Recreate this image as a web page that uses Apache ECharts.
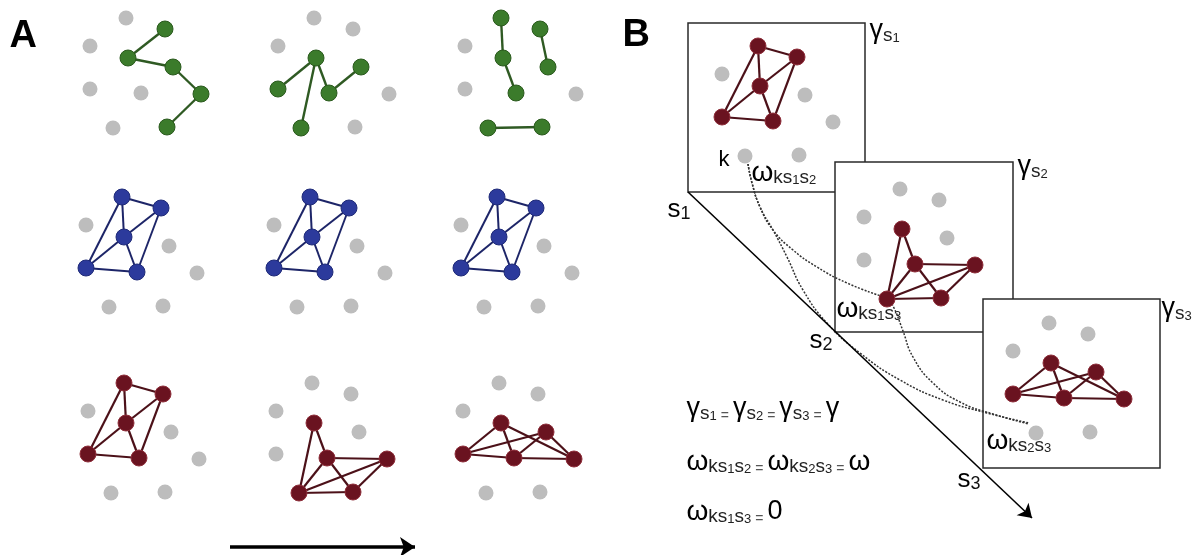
<!DOCTYPE html>
<html><head><meta charset="utf-8">
<script src="https://cdn.jsdelivr.net/npm/echarts@6/dist/echarts.min.js"></script>
<style>html,body{margin:0;padding:0;background:#fff}#c{width:1199px;height:555px}</style>
</head><body><div id="c"></div>
<script>
// ---- data ----
// base 10-node layout (shared by every network)
const nodeX = [126,165,90,128,173,90,141,201,113,167];
const nodeY = [18,29,46,58,67,89,93,94,128,127];

// edge lists (node index pairs); coloured nodes = nodes that carry an edge
const edgesG1 = [[1,3],[3,4],[4,7],[7,9]];
const edgesG2 = [[3,5],[3,8],[3,6],[6,4]];
const edgesG3 = [[0,3],[3,6],[1,4],[8,9]];
const edgesB  = [[0,1],[0,3],[0,5],[1,3],[1,6],[3,5],[3,6],[5,6]];
const edgesR2 = [[3,8],[3,6],[6,7],[6,8],[6,9],[8,9],[8,7],[9,7]];
const edgesR3 = [[5,3],[5,4],[5,6],[3,6],[3,7],[4,6],[4,7],[6,7]];

// which network goes in which cell
const cellEdges   = [edgesG1,edgesG2,edgesG3, edgesB,edgesB,edgesB, edgesB,edgesR2,edgesR3, edgesB,edgesR2,edgesR3];
const cellPalette = ['green','green','green','blue','blue','blue','red','red','red','red','red','red'];

// slice boxes of panel B: [x0,y0,x1,y1]
const boxes = [[688,23,865,192],[835,162,1013,332],[983,299,1160,468]];

// dotted inter-slice couplings
const curveS1S2 = [[748,164],[752,183],[760,207],[773,230],[793,250],[817,267],[847,283],[881,296]];
const curveS1S3 = [[748,164],[752,183],[760,207],[773,230],[787,257],[803,290],[827,323],[860,353],[900,380],[943,400],[987,413],[1029,423]];
const curveS2S3 = [[890,301],[895,310],[903,331],[913,357],[933,383],[960,402],[993,414],[1029,424]];

// arrows
const timeArrow  = [[230,547],[415,547]];
const sliceArrow = [[688,192],[1032,518]];

// text labels
const labelText = [
  '{AB|A}','{AB|B}','{k|k}',
  '{S|s}{D|1}','{S|s}{D|2}','{S|s}{D|3}',
  '{g|γ}{s|s}{d|1}','{g|γ}{s|s}{d|2}','{g|γ}{s|s}{d|3}',
  '{w|ω}{s|ks}{d|1}{s|s}{d|2}','{w|ω}{s|ks}{d|1}{s|s}{d|3}','{w|ω}{s|ks}{d|2}{s|s}{d|3}',
  '{g|γ}{s|s}{d|1}{e|=}{g|γ}{s|s}{d|2}{e|=}{g|γ}{s|s}{d|3}{e|=}{g|γ}',
  '{w|ω}{s|ks}{d|1}{s|s}{d|2}{e|=}{w|ω}{s|ks}{d|2}{s|s}{d|3}{e|=}{w|ω}',
  '{w|ω}{s|ks}{d|1}{s|s}{d|3}{e|=}{n|0}'
];

// ---- layout (cell origins, label anchors) ----
const cellOffset = [[0,0],[188,0],[375,0],[-4,179],[184,179],[371,179],[-2,365],[186,365],[373,365],[632,28],[774,171],[923,305]];
const labelPos = [[9,37],[622,36],[718,160],[667,210],[809,341],[957,480],
  [869,31],[1017,167],[1161,309],[751,173],[836,309],[986,441],[686,409],[686,462],[686,512]];

const F = 'Liberation Sans';
const palettes = {
  green:{fill:'#3b7b2b', border:'#2a5a1d', edge:'#2f5a23', ew:2.4},
  blue:{fill:'#2c3a9c', border:'#1f2a78', edge:'#1d2568', ew:2},
  red:{fill:'#6a1320', border:'#8e2e3a', edge:'#4c1119', ew:2.2}
};
const GRAY = '#bdbdbd';

const nodeData = [], edgeData = [];
cellEdges.forEach((edges, ci) => {
  const pal = palettes[cellPalette[ci]];
  const [ox, oy] = cellOffset[ci];
  const active = new Set(edges.flat());
  edges.forEach(([a,b]) => edgeData.push({
    coords:[[nodeX[a]+ox, nodeY[a]+oy],[nodeX[b]+ox, nodeY[b]+oy]],
    lineStyle:{color:pal.edge, width:pal.ew, opacity:1}
  }));
  nodeX.forEach((x,i) => {
    const on = active.has(i);
    nodeData.push({
      value:[x+ox, nodeY[i]+oy],
      symbolSize: on ? 16 : 15,
      itemStyle: on ? {color:pal.fill, borderColor:pal.border, borderWidth:1, opacity:1} : {color:GRAY, opacity:1}
    });
  });
});

const rich = {
  AB:{fontSize:38, fontWeight:'bold', color:'#000', fontFamily:F, lineHeight:40},
  k:{fontSize:22, color:'#000', fontFamily:F, lineHeight:22},
  S:{fontSize:26, color:'#000', fontFamily:F, lineHeight:26},
  D:{fontSize:18, color:'#111', fontFamily:F, verticalAlign:'bottom', lineHeight:10},
  g:{fontSize:27, color:'#000', fontFamily:F, lineHeight:28},
  w:{fontSize:28, color:'#000', fontFamily:F, lineHeight:28},
  s:{fontSize:19, color:'#222', fontFamily:F, verticalAlign:'bottom', lineHeight:14},
  d:{fontSize:13, color:'#222', fontFamily:F, verticalAlign:'bottom', lineHeight:10},
  e:{fontSize:14, color:'#555', fontFamily:F, verticalAlign:'bottom', lineHeight:22, padding:[0,4,0,4]},
  n:{fontSize:27, color:'#000', fontFamily:F, lineHeight:28}
};
const labelData = labelText.map((t,i) => ({
  value: labelPos[i],
  label:{show:true, formatter:t, position:'right', distance:0, opacity:1, rich:rich}
}));

const curveSeries = [curveS1S2, curveS1S3, curveS2S3].map(c => ({
  type:'line', data:c, smooth:0.5, showSymbol:false, symbol:'none', z:2, silent:true,
  lineStyle:{type:[2,1.5], width:1.5, color:'#333'}
}));

const chart = echarts.init(document.getElementById('c'));
chart.setOption({
  animation:false,
  backgroundColor:'#fff',
  grid:{left:0, right:0, top:0, bottom:0},
  xAxis:{type:'value', min:0, max:1199, show:false},
  yAxis:{type:'value', min:0, max:555, inverse:true, show:false},
  series:[
    {type:'custom', z:1, clip:false, silent:true, data:boxes,
     encode:{x:[0,2], y:[1,3]},
     renderItem:(params, api) => {
       const p0 = api.coord([api.value(0), api.value(1)]);
       const p1 = api.coord([api.value(2), api.value(3)]);
       return {type:'rect', shape:{x:p0[0], y:p0[1], width:p1[0]-p0[0], height:p1[1]-p0[1]},
               style:{fill:'#fff', stroke:'#2a2a2a', lineWidth:1.5}};
     }},
    ...curveSeries,
    {type:'lines', coordinateSystem:'cartesian2d', z:3, silent:true, data:edgeData,
     lineStyle:{opacity:1}},
    {type:'lines', coordinateSystem:'cartesian2d', z:3, silent:true,
     symbol:['none','arrow'], symbolSize:15, data:[{coords:timeArrow}],
     lineStyle:{color:'#000', width:3.5, opacity:1}},
    {type:'lines', coordinateSystem:'cartesian2d', z:3, silent:true,
     symbol:['none','arrow'], symbolSize:13, data:[{coords:sliceArrow}],
     lineStyle:{color:'#000', width:1.6, opacity:1}},
    {type:'scatter', z:4, silent:true, itemStyle:{opacity:1}, data:nodeData},
    {type:'scatter', z:5, silent:true, symbolSize:1, itemStyle:{color:'rgba(0,0,0,0)', opacity:1}, data:labelData}
  ]
});
</script></body></html>
